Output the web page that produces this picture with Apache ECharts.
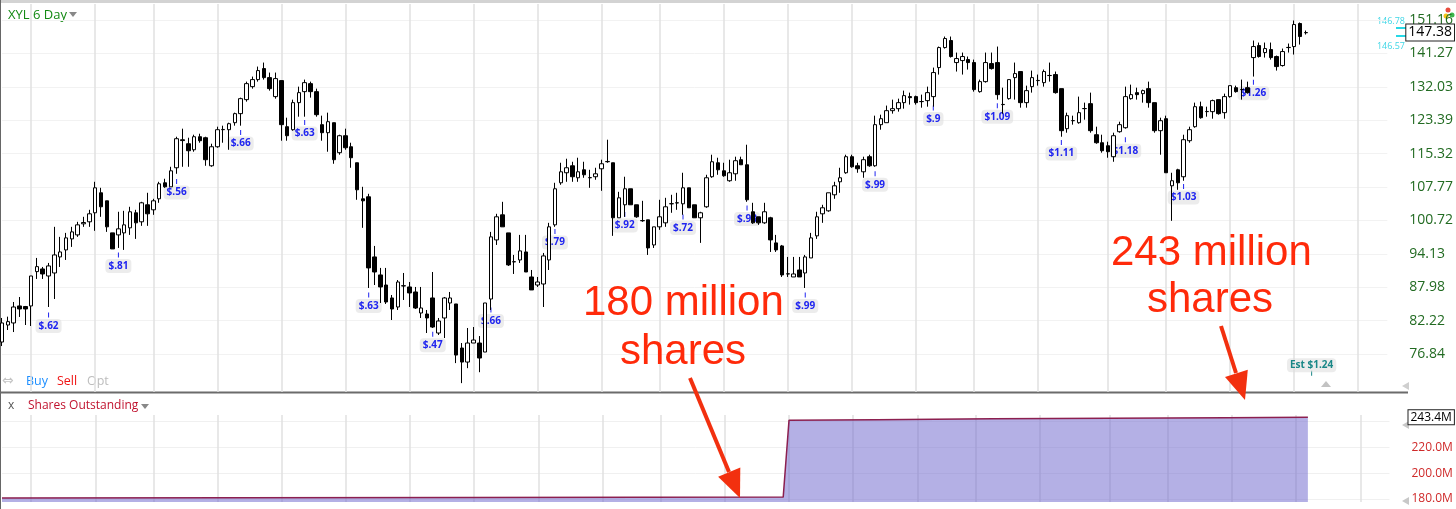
<!DOCTYPE html>
<html>
<head>
<meta charset="utf-8">
<script src="https://cdn.jsdelivr.net/npm/echarts@6/dist/echarts.min.js"></script>
<style>
html, body { margin: 0; padding: 0; background: #fff; }
#ec { width: 1456px; height: 509px; }
</style>
</head>
<body>
<div id="ec"></div>
<script>
// 6-day bars, each row is [open, close, low, high]
const candles = [
  [78.73, 81.83, 78.09, 82.66], [81.49, 82.05, 80.67, 82.88], [81.83, 84.52, 80.34, 85.38], [84.70, 84.18, 82.83, 86.25], [84.60, 84.18, 81.49, 84.70],
  [84.70, 90.00, 81.33, 90.00], [90.80, 91.72, 89.46, 93.35], [91.29, 90.37, 89.46, 91.66], [90.00, 91.85, 84.52, 92.41], [90.55, 93.92, 85.90, 99.42],
  [93.54, 94.49, 91.66, 97.42], [94.88, 97.22, 92.97, 98.21], [97.02, 98.41, 95.46, 99.42], [97.81, 99.82, 97.42, 100.44], [100.03, 100.30, 99.42, 101.46],
  [100.44, 102.08, 99.42, 102.91], [102.29, 107.60, 98.62, 108.92], [106.52, 103.54, 101.46, 107.60], [104.80, 99.42, 98.41, 104.80], [98.21, 95.07, 95.07, 98.21],
  [97.81, 99.02, 95.26, 102.50], [98.21, 99.82, 94.88, 102.70], [99.22, 102.50, 97.81, 103.54], [102.29, 100.23, 97.02, 102.91], [100.44, 104.38, 99.62, 104.59],
  [103.96, 102.08, 99.62, 106.52], [102.91, 104.80, 101.87, 105.23], [105.23, 108.48, 104.38, 108.92], [108.70, 107.82, 107.60, 109.59], [107.82, 111.37, 107.82, 112.28],
  [112.06, 118.85, 110.70, 119.33], [118.60, 118.40, 112.28, 121.29], [117.65, 115.99, 112.28, 119.09], [116.22, 119.33, 115.76, 119.82], [119.33, 118.37, 117.89, 120.06],
  [119.09, 113.90, 112.51, 119.33], [112.51, 116.93, 112.28, 117.65], [116.93, 121.04, 116.70, 121.78], [121.04, 121.10, 117.89, 122.03], [121.04, 122.52, 116.22, 122.77],
  [122.77, 125.04, 122.03, 125.29], [125.04, 128.90, 122.03, 129.16], [128.64, 132.88, 128.12, 133.42], [132.07, 133.97, 131.54, 134.79], [133.97, 136.44, 133.42, 137.55],
  [136.99, 134.51, 133.97, 138.67], [134.51, 131.54, 131.01, 135.89], [129.43, 134.24, 128.90, 135.89], [133.70, 122.28, 118.37, 133.70], [121.78, 119.57, 118.37, 124.02],
  [121.04, 127.86, 120.80, 128.64], [127.86, 130.48, 124.27, 132.07], [130.74, 133.15, 124.27, 133.97], [132.88, 130.74, 129.16, 133.42], [130.74, 124.78, 124.27, 131.54],
  [122.28, 120.31, 118.37, 124.53], [120.31, 123.02, 115.76, 125.29], [122.77, 113.90, 112.97, 122.77], [115.53, 119.57, 115.06, 119.82], [119.57, 116.70, 116.22, 121.29],
  [116.93, 114.36, 112.06, 117.89], [113.20, 107.17, 105.02, 113.20], [105.23, 104.80, 99.22, 107.82], [105.66, 91.48, 87.84, 106.30], [93.54, 90.73, 88.37, 95.65],
  [90.19, 88.02, 85.21, 91.48], [88.37, 85.38, 85.04, 91.48], [86.08, 84.18, 82.32, 86.60], [84.52, 88.91, 84.01, 89.27], [88.19, 88.25, 85.73, 90.55],
  [88.02, 86.96, 84.52, 88.91], [87.13, 84.35, 84.18, 88.02], [83.50, 84.35, 82.66, 88.02], [83.33, 82.66, 80.18, 84.01], [86.08, 81.16, 81.00, 90.73],
  [80.18, 82.16, 79.86, 82.66], [82.66, 86.08, 79.37, 86.25], [85.21, 86.08, 84.01, 87.13], [85.04, 76.68, 75.44, 85.04], [77.78, 75.60, 72.44, 78.57],
  [75.60, 78.57, 74.67, 81.00], [78.57, 79.05, 78.57, 81.16], [78.57, 76.22, 74.06, 79.69], [77.15, 85.21, 77.15, 85.21], [85.90, 97.42, 84.01, 98.41],
  [96.82, 101.46, 95.84, 102.08], [101.87, 99.42, 99.42, 104.59], [98.21, 92.04, 91.85, 98.21], [92.60, 92.65, 90.37, 93.92], [92.97, 94.69, 92.41, 97.81],
  [94.49, 90.73, 90.73, 97.81], [89.82, 87.49, 87.49, 91.10], [88.37, 88.91, 88.02, 89.82], [88.55, 93.73, 84.52, 94.30], [92.97, 99.42, 91.10, 100.23],
  [99.82, 107.39, 99.42, 108.70], [108.70, 111.15, 108.26, 113.20], [110.93, 112.06, 108.92, 114.13], [112.51, 110.04, 108.92, 113.43], [109.81, 111.15, 108.92, 114.36],
  [111.60, 110.48, 109.81, 113.43], [109.81, 109.85, 107.60, 111.60], [110.04, 110.70, 109.37, 112.06], [111.83, 112.97, 106.95, 113.90], [113.43, 113.50, 113.20, 118.61],
  [113.20, 101.26, 97.62, 113.20], [101.26, 105.44, 101.26, 106.73], [103.96, 107.39, 101.46, 110.04], [107.39, 103.96, 103.96, 107.39], [103.96, 101.46, 101.26, 103.96],
  [100.64, 100.70, 100.44, 104.80], [100.84, 95.26, 93.92, 100.84], [95.84, 99.42, 95.26, 99.42], [99.42, 101.46, 98.82, 105.02], [100.23, 103.54, 99.42, 105.44],
  [104.17, 104.20, 102.29, 106.09], [104.38, 104.35, 102.91, 106.52], [104.17, 107.60, 101.87, 110.93], [107.60, 103.33, 103.33, 107.60], [103.96, 101.26, 101.26, 103.96],
  [101.26, 102.29, 96.24, 102.50], [103.54, 109.81, 103.33, 110.48], [110.04, 113.43, 109.81, 115.06], [113.20, 111.60, 110.48, 114.36], [111.37, 110.26, 110.04, 113.20],
  [109.15, 110.93, 108.92, 113.90], [110.70, 113.67, 109.15, 114.60], [113.90, 112.74, 112.74, 114.60], [112.74, 105.02, 104.59, 117.41], [102.50, 100.23, 100.03, 104.38],
  [101.46, 100.23, 99.82, 101.46], [100.23, 102.50, 100.03, 104.38], [101.26, 96.82, 94.49, 101.46], [96.24, 94.88, 94.49, 97.81], [95.65, 90.19, 89.82, 95.84],
  [90.37, 90.40, 89.82, 93.54], [89.82, 90.37, 89.82, 93.54], [91.10, 89.82, 89.82, 93.54], [90.55, 93.54, 87.84, 93.92], [93.35, 97.22, 93.35, 98.21],
  [97.62, 101.46, 97.02, 102.50], [102.08, 103.33, 100.23, 103.96], [102.70, 106.52, 102.50, 106.52], [106.09, 108.04, 105.23, 108.92], [108.92, 109.81, 106.52, 112.06],
  [110.93, 114.60, 110.70, 115.06], [114.60, 112.28, 112.06, 115.06], [112.51, 111.83, 110.93, 113.20], [111.15, 113.90, 109.81, 114.60], [114.60, 112.51, 112.28, 115.06],
  [112.51, 122.28, 112.28, 124.53], [122.28, 123.77, 121.04, 124.78], [122.77, 125.80, 122.77, 127.10], [125.80, 126.31, 125.04, 128.64], [126.31, 127.86, 125.55, 128.90],
  [127.86, 129.69, 126.31, 131.01], [129.43, 129.16, 127.35, 130.48], [129.43, 127.86, 127.35, 129.69], [128.12, 128.15, 126.56, 129.95], [128.38, 130.48, 126.82, 132.07],
  [129.43, 135.89, 126.82, 137.27], [137.27, 142.95, 135.34, 143.24], [142.95, 145.59, 142.66, 146.18], [145.00, 140.37, 140.08, 146.18], [138.67, 139.80, 136.17, 141.51],
  [139.23, 140.37, 135.34, 141.51], [139.51, 138.67, 136.72, 140.37], [138.67, 131.28, 130.74, 139.51], [130.74, 133.42, 130.48, 133.97], [133.42, 138.67, 133.15, 141.51],
  [138.39, 136.99, 136.72, 141.51], [138.67, 129.95, 128.64, 143.24], [127.35, 127.40, 125.04, 131.80], [128.90, 133.97, 128.64, 133.97], [134.51, 135.61, 128.64, 138.67],
  [136.17, 127.86, 126.56, 136.17], [127.86, 131.01, 126.56, 132.34], [132.07, 134.51, 130.48, 136.44], [133.70, 133.75, 132.34, 135.34], [133.15, 136.17, 132.07, 136.72],
  [135.07, 135.10, 133.42, 138.67], [135.34, 130.48, 130.21, 136.17], [131.54, 120.80, 119.33, 131.54], [121.29, 124.53, 120.31, 125.29], [123.27, 123.30, 122.28, 124.53],
  [122.77, 125.29, 122.52, 129.43], [126.31, 126.35, 123.52, 127.86], [127.60, 120.80, 120.31, 130.48], [119.82, 117.89, 117.65, 121.78], [117.89, 115.99, 115.53, 119.82],
  [117.17, 115.76, 114.36, 118.13], [114.60, 119.57, 113.43, 120.31], [120.55, 122.28, 120.31, 123.02], [121.53, 129.43, 121.29, 132.07], [128.90, 129.95, 128.64, 132.61],
  [130.48, 129.95, 128.64, 131.80], [130.21, 131.01, 127.86, 131.28], [131.54, 127.86, 126.56, 133.42], [127.86, 120.80, 120.31, 127.86], [120.80, 123.27, 115.06, 124.02],
  [123.77, 110.93, 110.93, 124.53], [108.04, 109.15, 100.64, 110.93], [111.60, 108.70, 107.17, 111.83], [110.04, 118.61, 109.15, 119.82], [118.37, 121.04, 117.89, 121.78],
  [121.78, 126.82, 121.53, 127.86], [126.82, 124.02, 123.77, 128.12], [125.55, 125.60, 124.27, 126.82], [125.55, 128.38, 123.77, 128.64], [128.64, 125.04, 124.78, 128.64],
  [125.29, 129.43, 123.77, 130.21], [129.43, 132.34, 129.16, 132.34], [131.80, 130.74, 130.48, 132.34], [131.28, 131.32, 128.64, 133.97], [131.80, 130.48, 130.21, 133.42],
  [140.08, 143.24, 134.79, 145.00], [143.53, 140.37, 140.08, 144.41], [141.51, 142.66, 140.08, 144.41], [142.37, 140.08, 139.51, 144.41], [140.37, 137.55, 136.44, 140.65],
  [137.83, 141.80, 137.55, 142.66], [142.95, 143.00, 141.51, 144.12], [143.24, 149.77, 140.94, 151.00], [150.09, 146.18, 143.82, 150.40], [147.30, 147.38, 146.78, 147.97]
];

const slotCount = 239; // bars plus empty room on the right
const quarterIdx = [5, 16, 26, 37, 48, 59, 70, 81, 92, 103, 113, 124, 135, 146, 157, 167, 178, 190, 200, 211, 222, 233];
const priceTicks = [76.84, 82.22, 87.98, 94.13, 100.72, 107.77, 115.32, 123.39, 132.03, 141.27, 151.16];
const lastPrice = 147.38;

// earnings flags under the bars
const epsText = ['$.62', '$.81', '$.56', '$.66', '$.63', '$.63', '$.47', '$.66', '$.79', '$.92',
                 '$.72', '$.98', '$.99', '$.99', '$.9', '$1.09', '$1.11', '$1.18', '$1.03', '$1.26'];
const epsIdx = [8, 20, 30, 41, 52, 63, 74, 84, 95, 107, 117, 128, 138, 150, 160, 171, 182, 193, 203, 215];
const epsPrice = [83.16, 93.92, 108.99, 120.38, 122.84, 86.60, 79.97, 84.01, 98.48, 101.94,
                  101.40, 103.27, 86.60, 110.70, 126.49, 127.08, 117.96, 118.61, 107.89, 133.23];
const estText = ['Est $1.24'];
const estIdx = [225];
const estPrice = [73.91];

// shares outstanding (millions)
const sharesIdx = [0, 40, 80, 110, 134, 135, 150, 170, 190, 210, 224];
const sharesVal = [180.9, 181.0, 181.1, 181.3, 181.5, 241.2, 241.6, 242.2, 242.7, 243.1, 243.4];
const sharesTicks = [180, 200, 220, 240];
const lastShares = 243.4;

const cats = [];
for (let i = 0; i < slotCount; i++) cats.push(String(i));
const quarterSet = new Set(quarterIdx);
const uiFont = '"Open Sans", "Noto Sans", sans-serif';

function flag(color, above, labels) {
  return function (params, api) {
    const pt = api.coord([api.value(0), api.value(1)]);
    return {
      type: 'group',
      children: [
        { type: 'rect', shape: { x: pt[0] - 0.5, y: pt[1] - 2.5, width: 1, height: 5 }, style: { fill: color } },
        {
          type: 'text', x: pt[0], y: pt[1] + (above ? -8 : 11),
          style: {
            text: labels[params.dataIndex], fill: color, font: 'bold 10px ' + uiFont,
            align: 'center', verticalAlign: 'middle', textAlign: 'center', textVerticalAlign: 'middle',
            backgroundColor: 'rgba(220,220,220,0.55)', padding: [2, 3], borderRadius: 4
          }
        }
      ]
    };
  };
}

function axisBox(txt, size) {
  return {
    show: true, position: 'end', distance: 19, formatter: txt,
    color: '#000', fontSize: size, fontFamily: uiFont,
    backgroundColor: '#fff', borderColor: '#222', borderWidth: 1, padding: [1, 2]
  };
}

const hiddenLine = { width: 0, color: 'rgba(0,0,0,0)' };

const chart = echarts.init(document.getElementById('ec'));
chart.setOption({
  animation: false,
  backgroundColor: '#fff',
  grid: [
    { left: 2, width: 1387.5, top: 4, height: 388 },
    { left: 2, width: 1387.5, top: 415, height: 87 }
  ],
  xAxis: [0, 1].map(g => ({
    type: 'category', gridIndex: g, data: cats, boundaryGap: false,
    axisLine: { show: false }, axisTick: { show: false }, axisLabel: { show: false },
    splitLine: { show: true, interval: (i) => quarterSet.has(i), lineStyle: { color: '#e1e1e1', width: 1.5 } }
  })),
  yAxis: [
    {
      type: 'log', gridIndex: 0, position: 'right', min: 71.15, max: 156.14,
      axisLine: { show: false },
      axisTick: { show: false, customValues: priceTicks },
      axisLabel: { customValues: priceTicks, formatter: v => v.toFixed(2), color: '#226b22', fontSize: 14, fontFamily: uiFont, margin: 22 },
      splitLine: { show: true, lineStyle: { color: '#f2f2f2' } }
    },
    {
      type: 'value', gridIndex: 1, position: 'right', min: 177.7, max: 245.2,
      axisLine: { show: false },
      axisTick: { show: false, customValues: sharesTicks },
      axisLabel: { customValues: sharesTicks, formatter: v => v.toFixed(1) + 'M', color: '#cf2a2a', fontSize: 12, fontFamily: uiFont, margin: 22 },
      splitLine: { show: true, lineStyle: { color: '#f0f0f0' } }
    }
  ],
  series: [
    {
      type: 'custom', name: 'eps', xAxisIndex: 0, yAxisIndex: 0, z: 1,
      data: epsIdx.map((x, i) => [x, epsPrice[i]]),
      renderItem: flag('#1f24f0', false, epsText)
    },
    {
      type: 'custom', name: 'est', xAxisIndex: 0, yAxisIndex: 0, z: 1,
      data: estIdx.map((x, i) => [x, estPrice[i]]),
      renderItem: flag('#198787', true, estText)
    },
    {
      type: 'candlestick', name: 'XYL', xAxisIndex: 0, yAxisIndex: 0, z: 3,
      data: candles, barWidth: 4,
      itemStyle: { color: '#fff', color0: '#000', borderColor: '#000', borderColor0: '#000', borderWidth: 1 },
      markLine: {
        silent: true, symbol: 'none', lineStyle: hiddenLine,
        label: axisBox(String(lastPrice), 14),
        data: [{ yAxis: lastPrice }]
      }
    },
    {
      type: 'line', name: 'Shares Outstanding', xAxisIndex: 1, yAxisIndex: 1, z: 3,
      data: sharesIdx.map((x, i) => [x, sharesVal[i]]),
      symbol: 'none',
      lineStyle: { color: '#8c1f4f', width: 1.5 },
      areaStyle: { color: 'rgba(112,104,205,0.52)', opacity: 1, origin: 'start' },
      markLine: {
        silent: true, symbol: 'none', lineStyle: hiddenLine,
        label: axisBox(lastShares.toFixed(1) + 'M', 12),
        data: [{ yAxis: lastShares }]
      }
    }
  ],
  graphic: [
    { type: 'rect', shape: { x: 0, y: 0, width: 1456, height: 3 }, style: { fill: '#d3d3d3' } },
    { type: 'line', shape: { x1: 0.5, y1: 0, x2: 0.5, y2: 509 }, style: { stroke: '#666', lineWidth: 1 } },
    { type: 'text', x: 8, y: 15, style: { text: 'XYL 6 Day', fill: '#138a13', font: '13px ' + uiFont, textVerticalAlign: 'middle', verticalAlign: 'middle' } },
    { type: 'polygon', shape: { points: [[69, 12], [77, 12], [73, 17]] }, style: { fill: '#888' } },
    // order bar
    { type: 'text', x: 2, y: 381, style: { text: '⇔', fill: '#c4c4c4', font: '14px "DejaVu Sans"', textVerticalAlign: 'middle', verticalAlign: 'middle' } },
    { type: 'text', x: 26, y: 381, style: { text: 'Buy', fill: '#1e8fff', font: '12.5px ' + uiFont, textVerticalAlign: 'middle', verticalAlign: 'middle' } },
    { type: 'text', x: 57, y: 381, style: { text: 'Sell', fill: '#f01414', font: '12.5px ' + uiFont, textVerticalAlign: 'middle', verticalAlign: 'middle' } },
    { type: 'text', x: 87, y: 381, style: { text: 'Opt', fill: '#bdbdbd', font: '12.5px ' + uiFont, textVerticalAlign: 'middle', verticalAlign: 'middle' } },
    { type: 'polygon', shape: { points: [[1321, 387], [1331, 387], [1326, 381]] }, style: { fill: '#c2c2c2' } },
    { type: 'polygon', shape: { points: [[1402, 386], [1409, 382], [1409, 390]] }, style: { fill: '#cfcfcf' } },
    // panel divider
    { type: 'line', shape: { x1: 0, y1: 392.5, x2: 1408, y2: 392.5 }, style: { stroke: '#6b6b6b', lineWidth: 2 } },
    { type: 'text', x: 8, y: 406, style: { text: 'x', fill: '#555', font: '12px ' + uiFont, textVerticalAlign: 'middle', verticalAlign: 'middle' } },
    { type: 'text', x: 28, y: 406, style: { text: 'Shares Outstanding', fill: '#c0122e', font: '12px ' + uiFont, textVerticalAlign: 'middle', verticalAlign: 'middle' } },
    { type: 'polygon', shape: { points: [[141, 404], [149, 404], [145, 409]] }, style: { fill: '#888' } },
    { type: 'polygon', shape: { points: [[1402, 425], [1409, 421], [1409, 429]] }, style: { fill: '#c8c8c8' } },
    { type: 'polygon', shape: { points: [[1402, 501], [1409, 497], [1409, 505]] }, style: { fill: '#c8c8c8' } },
    // cyan price markers
    { type: 'line', shape: { x1: 1396, y1: 28, x2: 1409, y2: 28 }, style: { stroke: '#27d8e6', lineWidth: 2 } },
    { type: 'line', shape: { x1: 1396, y1: 36, x2: 1409, y2: 36 }, style: { stroke: '#27d8e6', lineWidth: 2 } },
    { type: 'text', x: 1405, y: 21, style: { text: '146.78', fill: '#3fd6e6', font: '9px ' + uiFont, textAlign: 'right', align: 'right', textVerticalAlign: 'middle', verticalAlign: 'middle' } },
    { type: 'text', x: 1405, y: 46, style: { text: '146.57', fill: '#3fd6e6', font: '9px ' + uiFont, textAlign: 'right', align: 'right', textVerticalAlign: 'middle', verticalAlign: 'middle' } },
    { type: 'circle', shape: { cx: 1448, cy: 10, r: 2.5 }, style: { fill: '#e84c3d' } },
    { type: 'circle', shape: { cx: 1452, cy: 15, r: 2.5 }, style: { fill: '#3cb44b' } },
    { type: 'circle', shape: { cx: 1446, cy: 16, r: 2.5 }, style: { fill: '#f5c518' } },
    // red call-outs
    { type: 'text', z: 100, x: 583, y: 303, style: { text: '180 million', fill: '#ff2a0a', font: '42px "Liberation Sans", Arial, sans-serif', textVerticalAlign: 'middle', verticalAlign: 'middle' } },
    { type: 'text', z: 100, x: 620, y: 352, style: { text: 'shares', fill: '#ff2a0a', font: '42px "Liberation Sans", Arial, sans-serif', textVerticalAlign: 'middle', verticalAlign: 'middle' } },
    { type: 'text', z: 100, x: 1111, y: 253, style: { text: '243 million', fill: '#ff2a0a', font: '42px "Liberation Sans", Arial, sans-serif', textVerticalAlign: 'middle', verticalAlign: 'middle' } },
    { type: 'text', z: 100, x: 1147, y: 300, style: { text: 'shares', fill: '#ff2a0a', font: '42px "Liberation Sans", Arial, sans-serif', textVerticalAlign: 'middle', verticalAlign: 'middle' } },
    { type: 'line', z: 100, shape: { x1: 690, y1: 378, x2: 729, y2: 472 }, style: { stroke: '#f2300f', lineWidth: 4 } },
    { type: 'polygon', z: 100, shape: { points: [[740, 498], [740.3, 467.6], [718.1, 476.8]] }, style: { fill: '#f2300f' } },
    { type: 'line', z: 100, shape: { x1: 1221, y1: 326, x2: 1236, y2: 373 }, style: { stroke: '#f2300f', lineWidth: 4 } },
    { type: 'polygon', z: 100, shape: { points: [[1245, 400], [1247.8, 369.7], [1225, 377.1]] }, style: { fill: '#f2300f' } }
  ]
});
</script>
</body>
</html>
